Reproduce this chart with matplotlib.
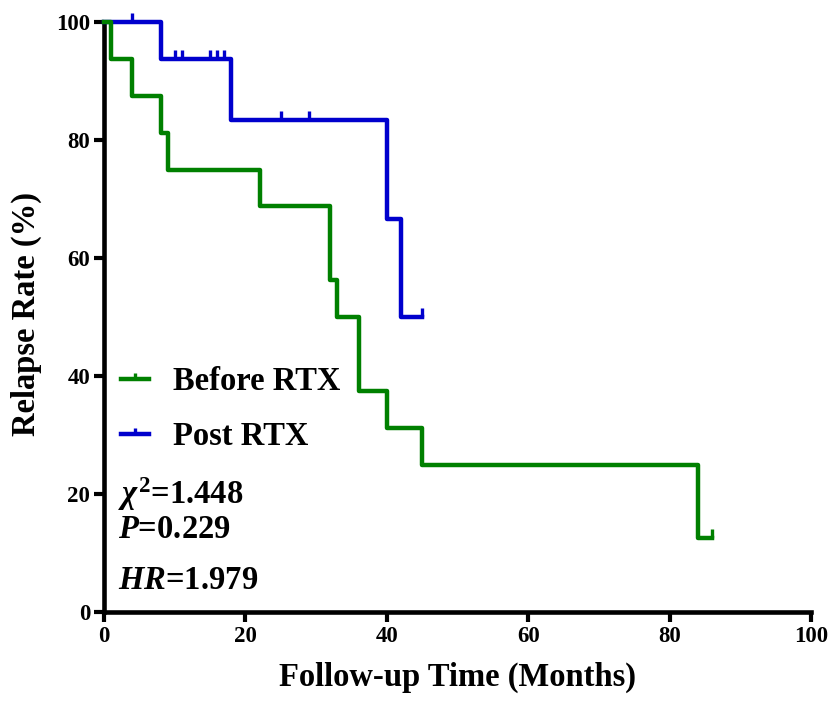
import numpy as np
import matplotlib
matplotlib.use("Agg")
from matplotlib import pyplot as plt
from matplotlib.path import Path
from matplotlib.lines import Line2D

# Kaplan-Meier steps
before_t = [0, 1, 4, 8, 9, 22, 32, 33, 36, 40, 45, 84, 86]
before_s = [100, 93.75, 87.5, 81.25, 75, 68.75, 56.25, 50, 37.5, 31.25, 25, 12.5, 12.5]
before_cens = [86]

post_t = [0, 8, 18, 40, 42, 45]
post_s = [100, 93.75, 83.33, 66.67, 50, 50]
post_cens = [4, 10, 11, 15, 16, 17, 25, 29, 45]

labels = ["Before RTX", "Post RTX"]
colors = ["#008000", "#0000cd"]
stats = [r"$\chi^{\mathrm{2}}$=1.448", r"$P$=0.229", r"$HR$=1.979"]

plt.rcParams["font.family"] = ["Liberation Serif", "DejaVu Serif"]
plt.rcParams["font.weight"] = "bold"
plt.rcParams["mathtext.fontset"] = "custom"
plt.rcParams["mathtext.rm"] = "Liberation Serif:bold"
plt.rcParams["mathtext.it"] = "Liberation Serif:italic:bold"
plt.rcParams["mathtext.bf"] = "Liberation Serif:bold"

tick = Path([(0, 0), (0, 1)])  # censor tick pointing up from the curve


def surv_at(times, surv, t):
    idx = np.searchsorted(times, t, side="right") - 1
    return np.array(surv)[idx]


fig = plt.figure(figsize=(8.31, 7.06), dpi=100)
ax = fig.add_axes([0.1252, 0.1331, 0.8508, 0.8357])

lw = 3.2
ms = 13
ax.step(post_t, post_s, where="post", color=colors[1], lw=lw, clip_on=False, zorder=3)
ax.plot(post_cens, surv_at(post_t, post_s, post_cens), ls="none", marker=tick,
        ms=ms, mew=2.4, color=colors[1], clip_on=False, zorder=3)
ax.step(before_t, before_s, where="post", color=colors[0], lw=lw, clip_on=False, zorder=4)
ax.plot(before_cens, surv_at(before_t, before_s, before_cens), ls="none", marker=tick,
        ms=ms, mew=2.4, color=colors[0], clip_on=False, zorder=4)

ax.set_xlim(0, 100)
ax.set_ylim(0, 100)
ax.set_xticks(np.arange(0, 101, 20))
ax.set_yticks(np.arange(0, 101, 20))
for side in ["top", "right"]:
    ax.spines[side].set_visible(False)
for side in ["left", "bottom"]:
    ax.spines[side].set_linewidth(3.3)
ax.tick_params(length=7, width=3.0, labelsize=16.5, pad=3)
for lab in ax.get_xticklabels() + ax.get_yticklabels():
    lab.set_fontweight("bold")

ax.set_xlabel("Follow-up Time (Months)", fontsize=23.5, fontweight="bold", labelpad=11)
ax.set_ylabel("Relapse Rate (%)", fontsize=23.5, fontweight="bold")
ax.yaxis.set_label_coords(-0.088, 0.505)

handles = [Line2D([], [], color=c, lw=lw, marker=tick, ms=ms * 0.7, mew=2.4) for c in colors]
leg = ax.legend(handles, labels, loc="upper left", bbox_to_anchor=(-0.008, 0.455),
                frameon=False, fontsize=23.5, handlelength=0.85, handletextpad=0.75,
                labelspacing=0.72, borderaxespad=0.3)

ax.text(0.02, 0.20, stats[0], transform=ax.transAxes, fontsize=23.5, fontweight="bold", va="center")
ax.text(0.02, 0.14, stats[1], transform=ax.transAxes, fontsize=23.5, fontweight="bold", va="center")
ax.text(0.02, 0.053, stats[2], transform=ax.transAxes, fontsize=23.5, fontweight="bold", va="center")

fig.savefig("out.png", dpi=100)
